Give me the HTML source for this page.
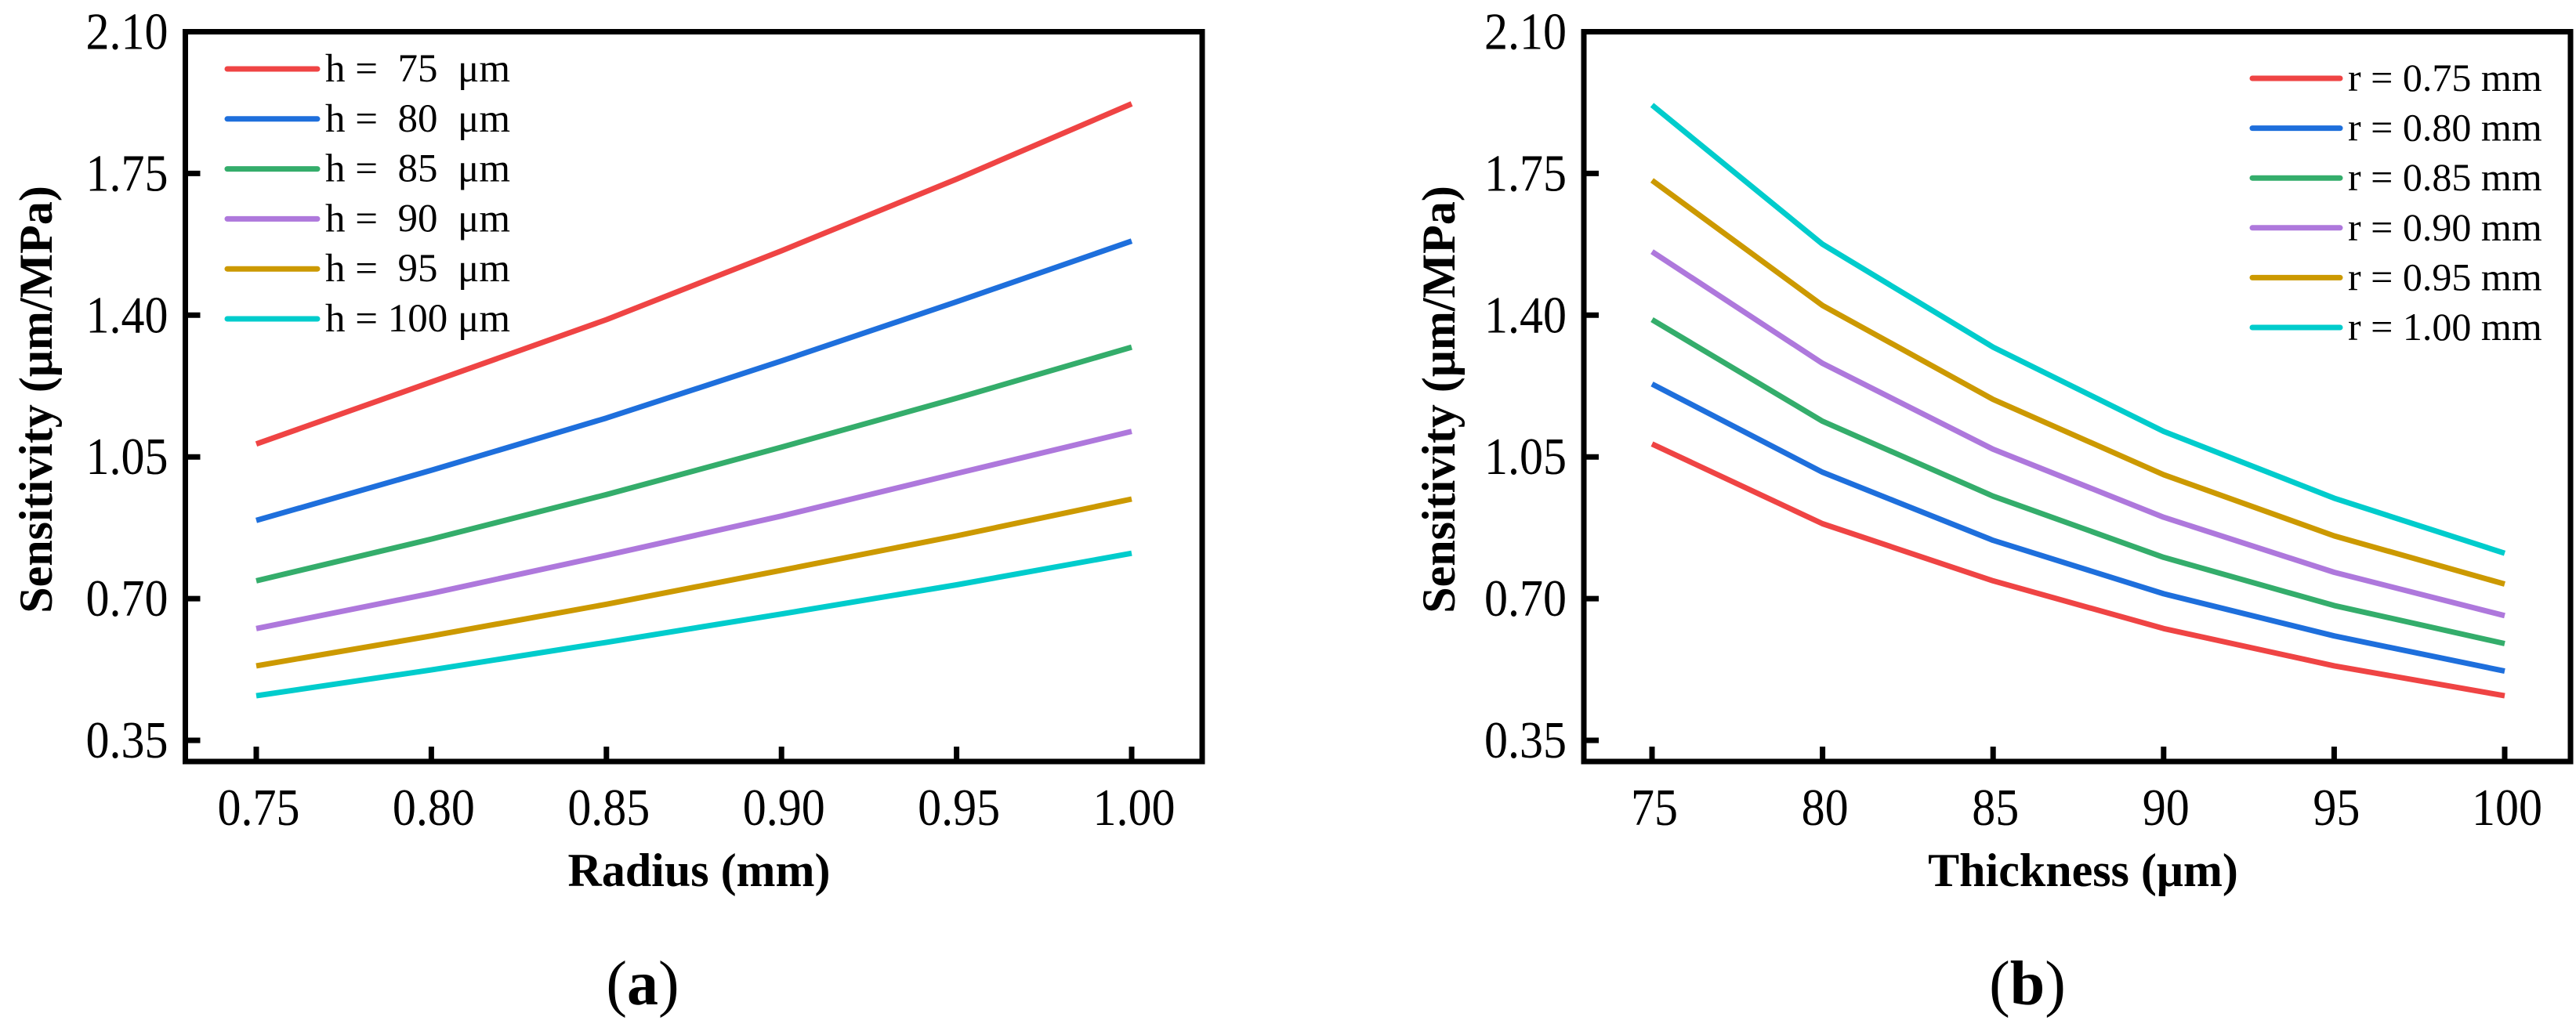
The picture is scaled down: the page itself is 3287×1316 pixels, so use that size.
<!DOCTYPE html>
<html><head><meta charset="utf-8"><style>
html,body{margin:0;padding:0;background:#fff;}
svg{display:block;}
text{font-family:"Liberation Serif",serif;fill:#000;}
</style></head><body>
<svg id="fig" width="3287" height="1316" viewBox="0 0 3287 1316" xmlns="http://www.w3.org/2000/svg">
<g id="pa"></g>
<g id="pb"></g>
</svg>
<script>
const colors = ["#EF4444","#1E6FDC","#34AD6B","#AE78DC","#CC9900","#00CCCC"];
const yTicks = [0.35,0.70,1.05,1.40,1.75,2.10];
const yTickLabels = ["0.35","0.70","1.05","1.40","1.75","2.10"];
// Panel (a)
const radiusCats = [0.75,0.80,0.85,0.90,0.95,1.00];
const radiusLabels = ["0.75","0.80","0.85","0.90","0.95","1.00"];
const aLegend = ["h =  75  μm","h =  80  μm","h =  85  μm","h =  90  μm","h =  95  μm","h = 100 μm"];
const h75 = [1.082,1.235,1.389,1.559,1.736,1.922];
const h80 = [0.893,1.017,1.146,1.287,1.433,1.583];
const h85 = [0.744,0.847,0.957,1.074,1.195,1.321];
const h90 = [0.626,0.713,0.807,0.904,1.009,1.113];
const h95 = [0.534,0.608,0.686,0.770,0.855,0.946];
const h100 = [0.460,0.524,0.592,0.662,0.734,0.812];
// Panel (b)
const thickCats = [75,80,85,90,95,100];
const thickLabels = ["75","80","85","90","95","100"];
const bLegend = ["r = 0.75 mm","r = 0.80 mm","r = 0.85 mm","r = 0.90 mm","r = 0.95 mm","r = 1.00 mm"];
const r075 = [1.082,0.885,0.744,0.626,0.534,0.460];
const r080 = [1.230,1.012,0.844,0.712,0.608,0.521];
const r085 = [1.389,1.138,0.953,0.802,0.683,0.589];
const r090 = [1.557,1.281,1.069,0.901,0.765,0.658];
const r095 = [1.733,1.424,1.192,1.006,0.855,0.736];
const r100 = [1.919,1.575,1.321,1.113,0.948,0.812];

const NS = "http://www.w3.org/2000/svg";
function mk(tag, attrs, parent){const e=document.createElementNS(NS,tag);for(const k in attrs)e.setAttribute(k,attrs[k]);parent.appendChild(e);return e;}

function panel(g, cfg){
  const yTop=40.5, yBot=945, vTop=2.10, vBot=0.35;
  const ys = v => yBot - (v - vBot)/(vTop - vBot)*(yBot - yTop);
  const xs = v => cfg.x0px + (v - cfg.cats[0])/(cfg.cats[cfg.cats.length-1]-cfg.cats[0])*(cfg.x1px - cfg.x0px);
  cfg.series.forEach((s,i)=>{
    const d = s.map((v,j)=>(j?"L":"M")+xs(cfg.cats[j]).toFixed(1)+","+ys(v).toFixed(1)).join(" ");
    const p = mk("path",{d:d,fill:"none",stroke:colors[i],"stroke-width":7,"stroke-linejoin":"round"},g);
    
    
  });
  const fr = mk("rect",{x:cfg.fl,y:yTop,width:cfg.fr-cfg.fl,height:972-yTop,fill:"none",stroke:"#000","stroke-width":7},g);
  
  
  yTicks.forEach((v,i)=>{
    const y=ys(v);
    if(i<yTicks.length-1){
      const t=mk("line",{x1:cfg.fl,x2:cfg.fl+19,y1:y,y2:y,stroke:"#000","stroke-width":7},g);
      
      
    }
    const tx=mk("text",{x:0,y:0,"text-anchor":"end","font-size":60,transform:"translate("+(cfg.fl-22)+","+(y+22)+") scale(1,1.12)"},g);
    tx.textContent=yTickLabels[i];
    
    
  });
  cfg.cats.forEach((c,i)=>{
    const x=xs(c);
    const t=mk("line",{x1:x,x2:x,y1:972,y2:953,stroke:"#000","stroke-width":7},g);
    
    
    const tx=mk("text",{x:0,y:0,"text-anchor":"middle","font-size":60,transform:"translate("+(x+3)+",1053) scale(1,1.12)"},g);
    tx.textContent=cfg.labels[i];
    
    
  });
  const xt=mk("text",{x:cfg.xtx,y:1131,"text-anchor":"middle","font-size":60,"font-weight":"bold"},g);
  xt.textContent=cfg.xtitle;
  
  
  const yt=mk("text",{x:0,y:0,"text-anchor":"middle","font-size":60,"font-weight":"bold",transform:"translate("+(cfg.ytx)+",510) rotate(-90)"},g);
  yt.textContent="Sensitivity (μm/MPa)";
  
  
  const pl=mk("text",{x:cfg.plx,y:1282,"text-anchor":"middle","font-size":80},g);
  pl.innerHTML='(<tspan font-weight="bold">'+cfg.tag+'</tspan>)';
  
  
  cfg.legend.forEach((lab,i)=>{
    const y=cfg.legY0+i*cfg.legDy;
    const ln=mk("line",{x1:cfg.legX0,x2:cfg.legX1,y1:y,y2:y,stroke:colors[i],"stroke-width":7,"stroke-linecap":"round"},g);
    
    
    const tx=mk("text",{x:cfg.legX1+10,y:y+16,"font-size":cfg.legFont},g);
    tx.setAttributeNS("http://www.w3.org/XML/1998/namespace","xml:space","preserve");
    tx.textContent=lab;
    
    
  });
}

panel(document.getElementById("pa"),{
  cats:radiusCats, labels:radiusLabels, series:[h75,h80,h85,h90,h95,h100],
  names:["h75","h80","h85","h90","h95","h100"],
  x0px:327, x1px:1444, fl:236.5, fr:1534, xtitle:"Radius (mm)", xtx:892, ytx:66, plx:820, tag:"a",
  legend:aLegend, legX0:290, legX1:405, legY0:88, legDy:63.8, legFont:51
});
panel(document.getElementById("pb"),{
  cats:thickCats, labels:thickLabels, series:[r075,r080,r085,r090,r095,r100],
  names:["r075","r080","r085","r090","r095","r100"],
  x0px:2108, x1px:3196, fl:2021, fr:3280, xtitle:"Thickness (μm)", xtx:2658, ytx:1856, plx:2587, tag:"b",
  legend:bLegend, legX0:2874, legX1:2986, legY0:100, legDy:63.6, legFont:50
});
</script>
</body></html>
